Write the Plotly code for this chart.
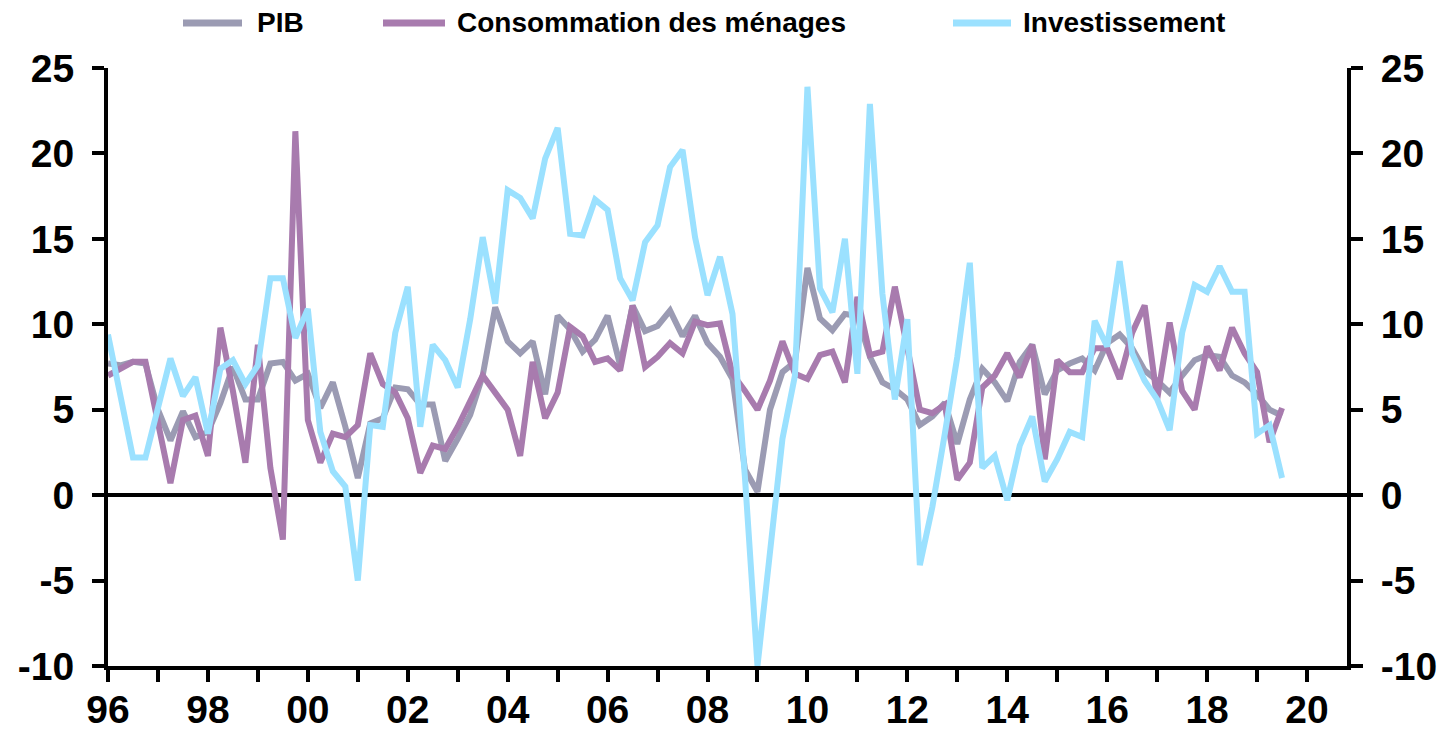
import plotly.graph_objects as go

# Quarterly data, 1996Q1 .. 2019Q3 (year-on-year growth, %)
start_year = 1996
series_names = ["PIB", "Consommation des ménages", "Investissement"]

pib = [7.7, 7.6, 7.8, 7.7, 5.0, 3.2, 4.9, 3.4, 3.7, 5.4,
       7.5, 5.6, 5.6, 7.7, 7.8, 6.7, 7.1, 5.1, 6.6, 4.0,
       1.0, 4.2, 4.5, 6.3, 6.2, 5.3, 5.3, 2.0, 3.3, 4.7,
       7.0, 11.0, 9.0, 8.3, 9.0, 5.9, 10.5, 9.7, 8.4, 9.1,
       10.5, 7.6, 11.1, 9.6, 9.9, 10.8, 9.3, 10.5, 8.9, 8.1,
       6.8, 1.5, 0.2, 5.0, 7.2, 7.8, 13.3, 10.35, 9.65, 10.6,
       10.5, 8.1, 6.6, 6.2, 5.6, 4.1, 4.6, 5.4, 3.0, 5.6,
       7.4, 6.6, 5.5, 7.8, 8.8, 5.9, 7.3, 7.7, 8.0, 7.3,
       8.9, 9.4, 8.6, 7.3, 6.7, 6.0, 7.0, 7.9, 8.2, 8.1,
       7.0, 6.6, 5.9, 5.0, 4.65]

conso = [7.0, 7.4, 7.8, 7.8, 4.2, 0.7, 4.4, 4.65, 2.3, 9.8,
         6.1, 1.9, 8.8, 1.6, -2.6, 21.3, 4.4, 1.9, 3.6, 3.4,
         4.1, 8.3, 6.5, 6.0, 4.5, 1.3, 2.9, 2.7, 4.0, 5.6,
         7.0, 6.0, 5.0, 2.3, 7.8, 4.5, 6.0, 9.85, 9.3, 7.8,
         8.0, 7.3, 11.1, 7.5, 8.1, 8.9, 8.3, 10.15, 9.95, 10.05,
         7.1, 6.1, 5.0, 6.7, 9.0, 7.1, 6.8, 8.2, 8.4, 6.6,
         11.6, 8.2, 8.4, 12.2, 8.8, 5.0, 4.8, 5.3, 0.9, 1.9,
         6.3, 7.0, 8.3, 6.9, 8.8, 2.1, 7.9, 7.2, 7.2, 8.6,
         8.6, 6.8, 9.5, 11.1, 5.6, 10.1, 6.1, 5.0, 8.7, 7.3,
         9.8, 8.3, 7.2, 3.1, 5.1]

invest = [9.4, 5.9, 2.2, 2.2, 5.1, 8.0, 5.8, 6.9, 3.6, 7.4,
          7.9, 6.5, 7.6, 12.7, 12.7, 9.2, 10.9, 3.7, 1.4, 0.5,
          -5.0, 4.1, 4.0, 9.5, 12.2, 4.0, 8.8, 7.9, 6.3, 10.3,
          15.1, 11.2, 17.85, 17.4, 16.2, 19.7, 21.5, 15.3, 15.2, 17.3,
          16.7, 12.7, 11.4, 14.8, 15.8, 19.2, 20.2, 15.1, 11.7, 13.95,
          10.6, 1.0, -10.0, -3.3, 3.3, 7.0, 23.9, 12.1, 10.7, 15.0,
          7.1, 22.9, 11.8, 5.6, 10.3, -4.1, -0.7, 3.6, 8.1, 13.6,
          1.6, 2.3, -0.3, 2.9, 4.6, 0.8, 2.1, 3.7, 3.4, 10.2,
          8.7, 13.7, 8.3, 6.7, 5.6, 3.8, 9.5, 12.3, 11.9, 13.4,
          11.9, 11.9, 3.6, 4.1, 1.0]

tick_years = list(range(1996, 2021))
tick_labels = [f"{y % 100:02d}" if y % 2 == 0 else "" for y in tick_years]
y_ticks = [-10, -5, 0, 5, 10, 15, 20, 25]
y_labels = [str(v) for v in y_ticks]

colors = ["#9B9BB3", "#A87BAE", "#9BE1FF"]

x = [start_year + k / 4 for k in range(len(pib))]

W, H = 1443, 734
ML, MR, MT, MB = 108, 96, 68, 68
PW, PH = W - ML - MR, H - MT - MB

FONT = "Liberation Sans, Arial, sans-serif"

fig = go.Figure()
for name, vals, col in zip(series_names, [pib, conso, invest], colors):
    fig.add_trace(go.Scatter(x=x, y=vals, mode="lines", name=name,
                             line=dict(color=col, width=6),
                             showlegend=False))
# invisible trace to activate right axis
fig.add_trace(go.Scatter(x=[x[0]], y=[pib[0]], yaxis="y2", mode="markers",
                         marker=dict(opacity=0), showlegend=False,
                         hoverinfo="skip"))

axis_common = dict(
    ticks="outside", ticklen=12, tickwidth=4, tickcolor="black",
    showline=True, linewidth=4, linecolor="black", showgrid=False,
    tickfont=dict(family=FONT, size=39, color="black", weight="bold"),
)

fig.update_layout(
    width=W, height=H,
    margin=dict(l=ML, r=MR, t=MT, b=MB, autoexpand=False),
    plot_bgcolor="white", paper_bgcolor="white",
    xaxis=dict(range=[1996, 2020.8], tickmode="array", tickvals=tick_years,
               ticktext=tick_labels, zeroline=False, ticklabelstandoff=-6,
               **axis_common),
    yaxis=dict(range=[-10, 25], tickmode="array", tickvals=y_ticks,
               ticktext=y_labels,
               zeroline=True, zerolinecolor="black", zerolinewidth=4,
               ticklabelstandoff=10, **axis_common),
    yaxis2=dict(range=[-10, 25], tickmode="array", tickvals=y_ticks,
                ticktext=y_labels,
                overlaying="y", side="right", zeroline=False,
                ticklabelstandoff=10, **axis_common),
)

# Legend drawn manually at top (paper coordinates)
def px_to_paper_x(px):
    return (px - ML) / PW

legend_y = (H - MB - 23) / PH
legend_items = [(183, 242, 255), (383, 445, 455), (953, 1011, 1021)]
for (x0, x1, xt), name, col in zip(legend_items, series_names, colors):
    fig.add_shape(type="line", xref="paper", yref="paper",
                  x0=px_to_paper_x(x0), x1=px_to_paper_x(x1),
                  y0=legend_y, y1=legend_y,
                  line=dict(color=col, width=7))
    fig.add_annotation(xref="paper", yref="paper", x=px_to_paper_x(xt),
                       y=legend_y, text=name, showarrow=False,
                       xanchor="left", yanchor="middle",
                       font=dict(family=FONT, size=28, color="black",
                                 weight="bold"))

fig.write_html("out.html",
               config={"displayModeBar": False},
               post_script="document.body.style.margin='0';"
                           "document.body.style.overflow='hidden';")
